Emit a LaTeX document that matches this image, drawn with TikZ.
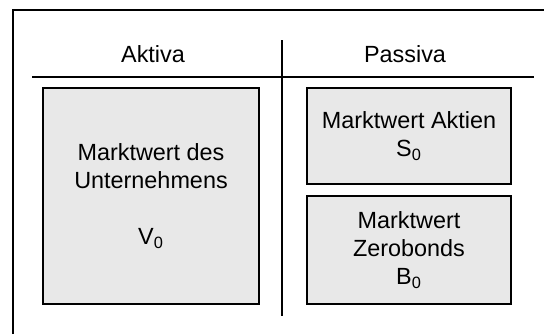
\documentclass[tikz,border=0pt]{standalone}
\usepackage{fontspec}
\setmainfont{Liberation Sans}
\usepackage{tikz}

\definecolor{boxgrau}{RGB}{232,232,232}

\begin{document}
\begin{tikzpicture}[x=0.5pt, y=-0.5pt,
    every node/.style={font=\fontsize{11.7}{14}\selectfont, align=center},
    posten/.style={draw, fill=boxgrau, line width=1pt, inner sep=0pt}]

    % Rahmen
    \useasboundingbox (0,0) rectangle (544,334);
    \draw[line width=1pt] (13,334) -- (13,10) -- (544,10);

    % Kopfzeile der Bilanz
    \node (aktiva) at (153,54) {Aktiva};
    \node (passiva) at (405,54) {Passiva};
    \draw[line width=1pt] (32,77) -- (534,77);
    \draw[line width=1pt] (282,40) -- (282,316);

    % Aktivseite
    \node[posten, minimum width=108pt, minimum height=108pt] (unternehmen) at (151,196)
        {Marktwert des\\Unternehmens\\[14pt]V\textsubscript{0}};

    % Passivseite
    \node[posten, minimum width=102pt, minimum height=48pt] (aktien) at (409,136)
        {Marktwert Aktien\\S\textsubscript{0}};
    \node[posten, minimum width=102pt, minimum height=54pt] (zerobonds) at (409,250)
        {Marktwert\\Zerobonds\\B\textsubscript{0}};

\end{tikzpicture}
\end{document}
